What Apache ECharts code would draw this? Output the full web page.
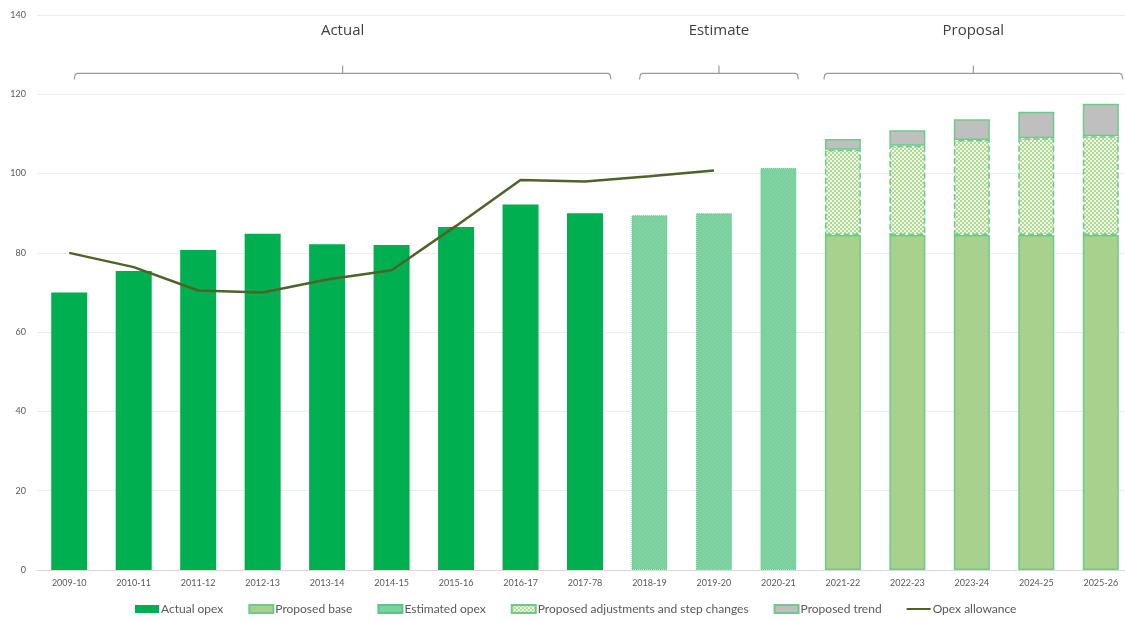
<!DOCTYPE html>
<html>
<head>
<meta charset="utf-8">
<script src="https://cdn.jsdelivr.net/npm/echarts@6/dist/echarts.min.js"></script>
<style>
  html, body { margin: 0; padding: 0; background: #fff; overflow: hidden; }
  /* the source chart is cropped a few pixels on the right */
  #chart { width: 1138px; height: 622px; }
</style>
</head>
<body>
<div id="chart"></div>
<script>
// categories
const years = ['2009-10', '2010-11', '2011-12', '2012-13', '2013-14', '2014-15', '2015-16', '2016-17', '2017-78',
  '2018-19', '2019-20', '2020-21', '2021-22', '2022-23', '2023-24', '2024-25', '2025-26'];

// series values ($m)
const actualOpex    = [70.0, 75.4, 80.7, 84.8, 82.2, 82.0, 86.5, 92.2, 90.0, null, null, null, null, null, null, null, null];
const estimatedOpex = [null, null, null, null, null, null, null, null, null, 89.5, 90.0, 101.4, null, null, null, null, null];
const proposedBase  = [null, null, null, null, null, null, null, null, null, null, null, null, 84.5, 84.5, 84.5, 84.5, 84.5];
const proposedAdj   = [null, null, null, null, null, null, null, null, null, null, null, null, 21.5, 22.5, 24.0, 24.4, 24.9];
const proposedTrend = [null, null, null, null, null, null, null, null, null, null, null, null, 2.7, 3.9, 5.2, 6.7, 8.2];
const opexAllowance = [80.0, 76.4, 70.5, 70.0, 73.3, 75.6, 86.8, 98.4, 98.0, 99.3, 100.8, null, null, null, null, null, null];

// period brackets drawn above the bars
const periodNames = ['Actual', 'Estimate', 'Proposal'];
const periodFrom  = [0, 9, 12];
const periodTo    = [8, 11, 16];
const yTicks = [0, 20, 40, 60, 80, 100, 120, 140];

// pixel nudges for the bracket ends (left, right)
const bracketPad = [[5, 26], [-10, 20], [-19, 22]];

function makePattern(size, bg, fg, cells) {
  const c = document.createElement('canvas');
  c.width = size; c.height = size;
  const ctx = c.getContext('2d');
  ctx.fillStyle = bg;
  ctx.fillRect(0, 0, size, size);
  ctx.fillStyle = fg;
  cells.forEach(function (p) { ctx.fillRect(p[0], p[1], p[2], p[3]); });
  return { image: c, repeat: 'repeat' };
}

// fine dotted green for estimates, checker for adjustments
const estFill = makePattern(4, '#7fd3a1', '#70c994', [[0, 0, 1, 1], [2, 2, 1, 1]]);
const adjFill = makePattern(4, '#eef7e8', '#b0da94', [[0, 0, 2, 2], [2, 2, 2, 2]]);

const chart = echarts.init(document.getElementById('chart'));
const fontFam = 'Lato, "Liberation Sans", sans-serif';

chart.setOption({
  animation: false,
  grid: { left: 37, top: 15, right: 5, height: 555, containLabel: false },
  legend: {
    top: 598,
    left: 130,
    itemWidth: 24,
    itemHeight: 8,
    itemGap: 25,
    textStyle: { fontFamily: fontFam, fontSize: 12, color: '#595959', padding: [0, 0, 0, -3] },
    data: [
      { name: 'Actual opex', icon: 'rect' },
      { name: 'Proposed base', icon: 'rect' },
      { name: 'Estimated opex', icon: 'rect' },
      { name: 'Proposed adjustments and step changes', icon: 'rect' },
      { name: 'Proposed trend', icon: 'rect' },
      { name: 'Opex allowance', icon: 'path://M0,0 L24,0 L24,2 L0,2 Z' }
    ]
  },
  xAxis: {
    type: 'category',
    data: years,
    axisLine: { lineStyle: { color: '#d9d9d9' } },
    axisTick: { show: false },
    axisLabel: { fontFamily: fontFam, fontSize: 9, color: '#595959', margin: 9, interval: 0 }
  },
  yAxis: {
    type: 'value',
    min: yTicks[0],
    max: yTicks[yTicks.length - 1],
    interval: yTicks[1] - yTicks[0],
    axisLine: { show: false },
    axisTick: { show: false },
    axisLabel: { fontFamily: fontFam, fontSize: 9, color: '#595959', margin: 11 },
    splitLine: { lineStyle: { color: '#ececec' } }
  },
  series: [
    {
      name: 'Actual opex', type: 'bar', stack: 'opex', barWidth: 36,
      itemStyle: { color: '#00b050' },
      data: actualOpex
    },
    {
      name: 'Estimated opex', type: 'bar', stack: 'opex', barWidth: 36,
      itemStyle: { color: estFill, borderColor: '#5cc488', borderWidth: 1, borderType: 'dotted' },
      data: estimatedOpex
    },
    {
      name: 'Proposed base', type: 'bar', stack: 'opex', barWidth: 37,
      itemStyle: { color: '#a9d18e', borderColor: '#6ccb8a', borderWidth: 1.5 },
      data: proposedBase
    },
    {
      name: 'Proposed adjustments and step changes', type: 'bar', stack: 'opex', barWidth: 37,
      itemStyle: { color: adjFill, borderColor: '#6ccb8a', borderWidth: 1.5, borderType: 'dashed' },
      data: proposedAdj
    },
    {
      name: 'Proposed trend', type: 'bar', stack: 'opex', barWidth: 37,
      itemStyle: { color: '#bfbfbf', borderColor: '#6ccb8a', borderWidth: 1.5 },
      data: proposedTrend
    },
    {
      name: 'Opex allowance', type: 'line', showSymbol: false, symbol: 'none',
      lineStyle: { color: '#4f6228', width: 2.5 },
      itemStyle: { color: '#4f6228' },
      data: opexAllowance, z: 5
    },
    {
      name: 'periods', type: 'custom', silent: true, clip: false, z: 6,
      data: periodFrom.map(function (f, i) { return [f, periodTo[i], 125]; }),
      renderItem: function (params, api) {
        const i = params.dataIndex;
        const a = api.coord([api.value(0), api.value(2)]);
        const b = api.coord([api.value(1), api.value(2)]);
        const x0 = a[0] + bracketPad[i][0];
        const x1 = b[0] + bracketPad[i][1];
        const y = a[1] - 1;
        const xm = (x0 + x1) / 2;
        const stroke = { stroke: '#9a9a9a', lineWidth: 1.2, fill: null };
        return {
          type: 'group',
          children: [
            { type: 'polyline', shape: { points: [[x0, y + 6], [x0 + 1, y + 1], [x0 + 3, y], [x1 - 3, y], [x1 - 1, y + 1], [x1, y + 6]] }, style: stroke },
            { type: 'line', shape: { x1: xm, y1: y, x2: xm, y2: y - 8 }, style: stroke },
            { type: 'text', x: xm, y: y - 43, style: { text: periodNames[i], fontFamily: '"Open Sans", sans-serif', fontSize: 15, fill: '#404040', align: 'center', verticalAlign: 'middle' } }
          ]
        };
      }
    }
  ]
});
</script>
</body>
</html>
